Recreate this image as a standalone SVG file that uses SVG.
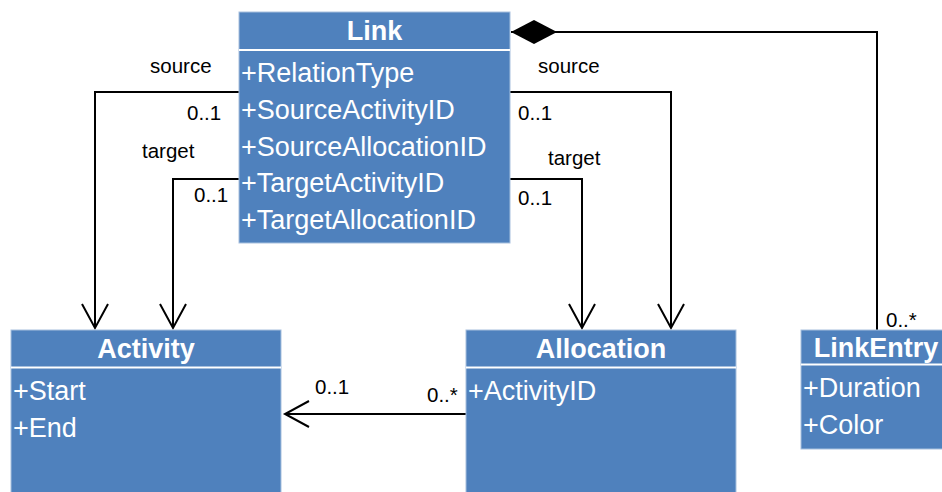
<svg xmlns="http://www.w3.org/2000/svg" width="942" height="492" viewBox="0 0 942 492">
<style>
.box{fill:#4F81BD;stroke:#A7C0DE;stroke-width:1}
.sep{stroke:#FFFFFF;stroke-width:2}
.title{font-family:"Liberation Sans",Arial,sans-serif;font-size:27px;font-weight:bold;fill:#FFFFFF;text-anchor:middle}
.attr{font-family:"Liberation Sans",Arial,sans-serif;font-size:27px;fill:#FFFFFF}
.lbl{font-family:"Liberation Sans",Arial,sans-serif;font-size:20.5px;fill:#000000}
.conn{fill:none;stroke:#000000;stroke-width:2}
</style>
<defs>
<marker id="open" markerUnits="userSpaceOnUse" markerWidth="30" markerHeight="30" refX="0" refY="0" orient="auto" overflow="visible">
<path d="M-24,-13 L0,0 L-24,13" fill="none" stroke="#000000" stroke-width="2"/>
</marker>
<marker id="diamond" markerUnits="userSpaceOnUse" markerWidth="50" markerHeight="30" refX="0" refY="0" orient="auto" overflow="visible">
<path d="M0,0 L23,-12 L46,0 L23,12 Z" fill="#000000" stroke="none"/>
</marker>
</defs>

<g id="connectors">
<path class="conn" d="M239,92 H95 V328" marker-end="url(#open)"/>
<path class="conn" d="M239,179 H173 V328" marker-end="url(#open)"/>
<path class="conn" d="M510,92 H671 V328" marker-end="url(#open)"/>
<path class="conn" d="M510,179 H582 V328" marker-end="url(#open)"/>
<path class="conn" d="M466,414 H285" marker-end="url(#open)"/>
<path class="conn" d="M511,32 H877 V330" marker-start="url(#diamond)"/>
<text class="lbl" x="150" y="73">source</text>
<text class="lbl" x="187" y="120">0..1</text>
<text class="lbl" x="142" y="158">target</text>
<text class="lbl" x="194" y="202">0..1</text>
<text class="lbl" x="538" y="73">source</text>
<text class="lbl" x="518" y="120">0..1</text>
<text class="lbl" x="548" y="165">target</text>
<text class="lbl" x="518" y="205">0..1</text>
<text class="lbl" x="886" y="327">0..*</text>
<text class="lbl" x="315" y="394">0..1</text>
<text class="lbl" x="427" y="402">0..*</text>
</g>

<g id="Link">
<rect class="box" x="239" y="12" width="271" height="231"/>
<line class="sep" x1="239" y1="50" x2="510" y2="50"/>
<text class="title" x="374.5" y="40">Link</text>
<text class="attr" x="241" y="82">+RelationType</text>
<text class="attr" x="241" y="119">+SourceActivityID</text>
<text class="attr" x="241" y="155.5">+SourceAllocationID</text>
<text class="attr" x="241" y="192">+TargetActivityID</text>
<text class="attr" x="241" y="228.5">+TargetAllocationID</text>
</g>

<g id="Activity">
<rect class="box" x="11" y="330" width="270" height="170"/>
<line class="sep" x1="11" y1="367.5" x2="281" y2="367.5"/>
<text class="title" x="146" y="358">Activity</text>
<text class="attr" x="13" y="400">+Start</text>
<text class="attr" x="13" y="437">+End</text>
</g>

<g id="Allocation">
<rect class="box" x="466" y="330" width="270" height="170"/>
<line class="sep" x1="466" y1="367.5" x2="736" y2="367.5"/>
<text class="title" x="601" y="358">Allocation</text>
<text class="attr" x="468" y="400">+ActivityID</text>
</g>

<g id="LinkEntry">
<rect class="box" x="801" y="330" width="150" height="119"/>
<line class="sep" x1="801" y1="364.5" x2="942" y2="364.5"/>
<text class="title" x="876" y="357">LinkEntry</text>
<text class="attr" x="803" y="397">+Duration</text>
<text class="attr" x="803" y="434">+Color</text>
</g>
</svg>
